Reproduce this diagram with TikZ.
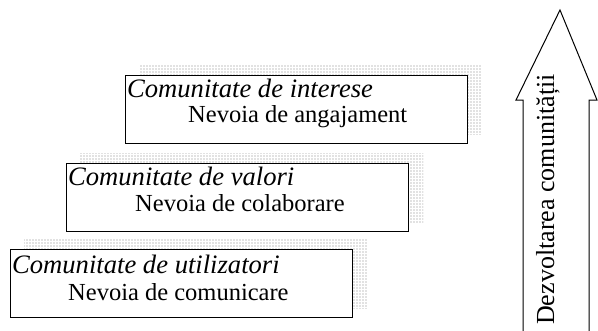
\documentclass[tikz,border=0pt]{standalone}
\usepackage{fontspec}
\setmainfont{Liberation Serif}
\usetikzlibrary{patterns.meta,backgrounds}
\begin{document}
\begin{tikzpicture}[x=1pt,y=-1pt,
  box/.style={draw=black, line width=1pt, fill=white, rectangle, minimum width=342pt, minimum height=68pt, inner sep=0pt, anchor=north west},
  shade/.style={pattern={Dots[distance=3pt,radius=0.6pt]}, pattern color=gray},
  ital/.style={font=\fontsize{26.6}{30}\selectfont\itshape, anchor=base west, inner sep=0pt},
  rom/.style={font=\fontsize{24.5}{30}\selectfont, anchor=base west, inner sep=0pt},
  bigarrow/.style={draw=black, line width=1pt, fill=white, line join=miter}
]
\useasboundingbox (0,0) rectangle (598,330);
% boxes
\node[box] (b1) at (10,249) {};
\node[box] (b2) at (66,163) {};
\node[box] (b3) at (125,75) {};
% dotted shadows
\begin{scope}[on background layer]
  \foreach \b in {b1,b2,b3}{
    \fill[shade] ([shift={(14,-10)}]\b.north west) rectangle ([shift={(14,-10)}]\b.south east);
  }
\end{scope}
% texts
\node[ital] (t1a) at ([shift={(2,24)}]b1.north west) {Comunitate de utilizatori};
\node[rom]  (t1b) at ([shift={(58,51)}]b1.north west) {Nevoia de comunicare};
\node[ital] (t2a) at ([shift={(2,22)}]b2.north west) {Comunitate de valori};
\node[rom]  (t2b) at ([shift={(69,48)}]b2.north west) {Nevoia de colaborare};
\node[ital] (t3a) at ([shift={(2,22)}]b3.north west) {Comunitate de interese};
\node[rom]  (t3b) at ([shift={(63,47)}]b3.north west) {Nevoia de angajament};
% big arrow
\coordinate (tip) at (560,10);
\coordinate (sl) at (523,331);
\coordinate (sr) at (589,331);
\draw[bigarrow] (sl) -- (523,100) -- (516,100) -- (tip) -- (597,100) -- (589,100) -- (sr);
\node[font=\fontsize{26}{30}\selectfont, rotate=90, anchor=base west, inner sep=0pt] (arrtxt) at (554,325) {Dezvoltarea comunității};
\end{tikzpicture}
\end{document}
